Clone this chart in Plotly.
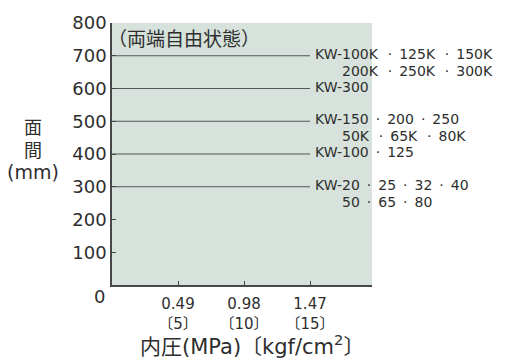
import plotly.graph_objects as go

# Internal pressure ticks: MPa with kgf/cm2 in brackets
pressure_mpa = [0.49, 0.98, 1.47]
pressure_kgf = [5, 10, 15]

# Face-to-face length (mm) of each model group, constant over pressure
line_x = [0, 1.47]
face_to_face = [700, 600, 500, 400, 300]
SEP = "\u2002·\u2002"
KSEP = "\u2009\u2002·\u2002"
group_line1 = [
    KSEP.join(["KW-100K", "125K", "150K"]),
    "KW-300",
    SEP.join(["KW-150", "200", "250"]),
    SEP.join(["KW-100", "125"]),
    SEP.join(["KW-20", "25", "32", "40"]),
]
group_line2 = [
    KSEP.join(["200K", "250K", "300K"]),
    "",
    KSEP.join(["50K", "65K", "80K"]),
    "",
    SEP.join(["50", "65", "80"]),
]

y_ticks = [100, 200, 300, 400, 500, 600, 700, 800]

TEXT = "#2e2e2e"
AXIS = "#474747"
LATIN = "DejaVu Sans, Noto Sans CJK JP, sans-serif"
CJK = "Noto Sans CJK JP, DejaVu Sans, sans-serif"

W, H = 505, 362
ml, mr, mt, mb = 112, 133, 17, 77
pw, ph = W - ml - mr, H - mt - mb


def px_x(x):
    return (x - ml) / pw


def px_y(y):
    return (H - mb - y) / ph


fig = go.Figure()

for v in face_to_face:
    fig.add_trace(go.Scatter(
        x=line_x, y=[v, v], mode="lines",
        line=dict(color="#555555", width=1.2),
        hoverinfo="skip", showlegend=False,
    ))

annotations = []
for v, t1, t2 in zip(face_to_face, group_line1, group_line2):
    annotations.append(dict(
        x=line_x[-1], y=v, xref="x", yref="y", text=t1,
        xanchor="left", yanchor="middle", xshift=3, yshift=2,
        showarrow=False, font=dict(family=LATIN, size=14, color=TEXT),
    ))
    if t2:
        annotations.append(dict(
            x=line_x[-1], y=v, xref="x", yref="y", text=t2,
            xanchor="left", yanchor="middle", xshift=30, yshift=-15,
            showarrow=False, font=dict(family=LATIN, size=14, color=TEXT),
        ))

# condition note inside the plot
annotations.append(dict(
    x=0, y=px_y(32), xref="x", yref="paper", text="（両端自由状態）",
    xanchor="left", yanchor="middle", xshift=-6, showarrow=False,
    font=dict(family=CJK, size=19, color=TEXT),
))
# origin label
annotations.append(dict(
    x=0, y=0, xref="x", yref="y", text="0",
    xanchor="right", yanchor="middle", xshift=-5, yshift=-11,
    showarrow=False, font=dict(family=LATIN, size=18, color=TEXT),
))
# y-axis title
annotations.append(dict(
    x=px_x(33), y=px_y(134), xref="paper", yref="paper", text="面<br>間",
    xanchor="center", yanchor="middle", showarrow=False,
    font=dict(family=CJK, size=18, color=TEXT),
))
annotations.append(dict(
    x=px_x(33), y=px_y(169), xref="paper", yref="paper", text="(mm)",
    xanchor="center", yanchor="middle", showarrow=False,
    font=dict(family=LATIN, size=19, color=TEXT),
))
# x-axis title
annotations.append(dict(
    x=px_x(252), y=px_y(346), xref="paper", yref="paper",
    text="内圧(MPa)〔kgf/cm<sup>2</sup>〕",
    xanchor="center", yanchor="middle",
    showarrow=False, font=dict(family=LATIN, size=21, color=TEXT),
))

fig.update_layout(
    width=W, height=H,
    margin=dict(l=ml, r=mr, t=mt, b=mb, pad=0),
    paper_bgcolor="white",
    plot_bgcolor="#d6e2db",
    annotations=annotations,
    xaxis=dict(
        range=[0, 1.93], tickvals=pressure_mpa,
        ticktext=[f"{m}<br>〔{k}〕" for m, k in zip(pressure_mpa, pressure_kgf)],
        showgrid=False, zeroline=False, showline=True,
        linecolor=AXIS, linewidth=2, ticks="inside", ticklen=4,
        tickcolor=AXIS, tickfont=dict(family=LATIN, size=15, color=TEXT),
        ticklabelstandoff=4, fixedrange=True,
    ),
    yaxis=dict(
        range=[0, 800], tickvals=y_ticks,
        showgrid=False, zeroline=False, showline=True,
        linecolor=AXIS, linewidth=1.5, ticks="inside", ticklen=4,
        tickcolor=AXIS, tickfont=dict(family=LATIN, size=18, color=TEXT),
        fixedrange=True,
    ),
)

fig.write_html("out.html")
